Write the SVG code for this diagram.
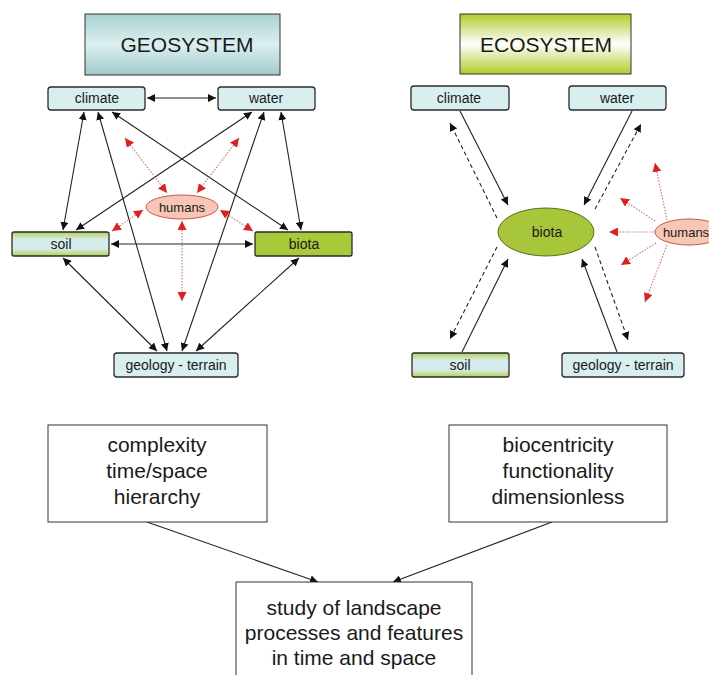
<svg xmlns="http://www.w3.org/2000/svg" width="709" height="675" viewBox="0 0 709 675">
<style>
text{font-family:"Liberation Sans",Arial,sans-serif;fill:#1a1a1a;text-anchor:middle}
.t14{font-size:14px}
.t13{font-size:13px}
.title{font-size:21px}
.big{font-size:21px}
.box{fill:#d9eeef;stroke:#2a2a2a;stroke-width:1.3}
.plain{fill:#fff;stroke:#333;stroke-width:1}
.blk{stroke:#222;stroke-width:1.1;fill:none}
.dash{stroke:#222;stroke-width:1.1;fill:none;stroke-dasharray:4,3}
.red{stroke:#d87070;stroke-width:1.1;fill:none;stroke-dasharray:1.5,1.5}
</style>
<defs>
<linearGradient id="gTeal" x1="0" y1="0" x2="0" y2="1">
<stop offset="0" stop-color="#a9d1d1"/><stop offset="0.5" stop-color="#dcefef"/><stop offset="1" stop-color="#a0caca"/>
</linearGradient>
<linearGradient id="gGreen" x1="0" y1="0" x2="0" y2="1">
<stop offset="0" stop-color="#b0cc2a"/><stop offset="0.5" stop-color="#ffffff"/><stop offset="1" stop-color="#b0cc2a"/>
</linearGradient>
<linearGradient id="gSoil" x1="0" y1="0" x2="0" y2="1">
<stop offset="0" stop-color="#b6d250"/><stop offset="0.3" stop-color="#d6ecec"/><stop offset="0.7" stop-color="#d6ecec"/><stop offset="1" stop-color="#b6d250"/>
</linearGradient>
<marker id="ab" viewBox="0 0 10 10" refX="10" refY="5" markerWidth="8" markerHeight="8" markerUnits="userSpaceOnUse" orient="auto-start-reverse">
<path d="M0,0 L10,5 L0,10 z" fill="#111"/>
</marker>
<marker id="ar" viewBox="0 0 10 10" refX="10" refY="5" markerWidth="9" markerHeight="9" markerUnits="userSpaceOnUse" orient="auto-start-reverse">
<path d="M0,0 L10,5 L0,10 z" fill="#e02020"/>
</marker>
</defs>

<g id="geosystem-title">
<rect x="85" y="14" width="195" height="61" fill="url(#gTeal)" stroke="#333" stroke-width="1"/>
<text class="title" x="187" y="52">GEOSYSTEM</text>
</g>
<g id="ecosystem-title">
<rect x="460" y="14" width="171" height="60" fill="url(#gGreen)" stroke="#333" stroke-width="1"/>
<text class="title" x="546" y="52">ECOSYSTEM</text>
</g>

<g id="connectors">
<line class="blk" x1="147" y1="98" x2="216" y2="98" marker-start="url(#ab)" marker-end="url(#ab)"/>
<line class="blk" x1="111" y1="244" x2="253" y2="244" marker-start="url(#ab)" marker-end="url(#ab)"/>
<line class="blk" x1="84" y1="112" x2="63" y2="230" marker-start="url(#ab)" marker-end="url(#ab)"/>
<line class="blk" x1="98" y1="112" x2="167" y2="351" marker-start="url(#ab)" marker-end="url(#ab)"/>
<line class="blk" x1="112" y1="112" x2="288" y2="230" marker-start="url(#ab)" marker-end="url(#ab)"/>
<line class="blk" x1="252" y1="112" x2="76" y2="230" marker-start="url(#ab)" marker-end="url(#ab)"/>
<line class="blk" x1="264" y1="112" x2="182" y2="351" marker-start="url(#ab)" marker-end="url(#ab)"/>
<line class="blk" x1="281" y1="112" x2="301" y2="230" marker-start="url(#ab)" marker-end="url(#ab)"/>
<line class="blk" x1="63" y1="258" x2="157" y2="351" marker-start="url(#ab)" marker-end="url(#ab)"/>
<line class="blk" x1="299" y1="258" x2="196" y2="351" marker-start="url(#ab)" marker-end="url(#ab)"/>

<line class="red" x1="125" y1="138" x2="167" y2="193" marker-start="url(#ar)" marker-end="url(#ar)"/>
<line class="red" x1="239" y1="138" x2="197" y2="193" marker-start="url(#ar)" marker-end="url(#ar)"/>
<line class="red" x1="112" y1="231" x2="143" y2="210" marker-start="url(#ar)" marker-end="url(#ar)"/>
<line class="red" x1="253" y1="231" x2="220" y2="210" marker-start="url(#ar)" marker-end="url(#ar)"/>
<line class="red" x1="182" y1="221" x2="182" y2="301" marker-start="url(#ar)" marker-end="url(#ar)"/>

<line class="blk" x1="460" y1="111" x2="508" y2="205" marker-end="url(#ab)"/>
<line class="dash" x1="497" y1="218" x2="450" y2="123" marker-end="url(#ab)"/>
<line class="blk" x1="632" y1="111" x2="584" y2="205" marker-end="url(#ab)"/>
<line class="dash" x1="595" y1="209" x2="641" y2="124" marker-end="url(#ab)"/>
<line class="blk" x1="462" y1="352" x2="508" y2="259" marker-end="url(#ab)"/>
<line class="dash" x1="497" y1="247" x2="450" y2="339" marker-end="url(#ab)"/>
<line class="blk" x1="617" y1="352" x2="582" y2="259" marker-end="url(#ab)"/>
<line class="dash" x1="595" y1="247" x2="628" y2="340" marker-end="url(#ab)"/>

<line class="red" x1="667" y1="220" x2="655" y2="163" marker-end="url(#ar)"/>
<line class="red" x1="655" y1="221" x2="620" y2="198" marker-end="url(#ar)"/>
<line class="red" x1="654" y1="232" x2="609" y2="232" marker-end="url(#ar)"/>
<line class="red" x1="656" y1="243" x2="621" y2="265" marker-end="url(#ar)"/>
<line class="red" x1="667" y1="245" x2="645" y2="302" marker-end="url(#ar)"/>

<line class="blk" x1="147" y1="522" x2="318" y2="582" marker-end="url(#ab)"/>
<line class="blk" x1="552" y1="522" x2="393" y2="582" marker-end="url(#ab)"/>
</g>

<g id="geo-climate"><rect class="box" x="48" y="87" width="97" height="23" rx="3"/><text class="t14" x="97" y="103">climate</text></g>
<g id="geo-water"><rect class="box" x="218" y="87" width="97" height="23" rx="3"/><text class="t14" x="266" y="103">water</text></g>
<g id="geo-soil"><rect x="12" y="232" width="97" height="24" rx="2" fill="url(#gSoil)" stroke="#2a2a2a" stroke-width="1.3"/><text class="t14" x="61" y="249">soil</text></g>
<g id="geo-biota"><rect x="255" y="232" width="97" height="24" rx="2" fill="#a9c93a" stroke="#2a2a2a" stroke-width="1.3"/><text class="t14" x="304" y="249">biota</text></g>
<g id="geo-humans"><ellipse cx="182" cy="207" rx="36" ry="12" fill="#f7c6b6" stroke="#c85a4a" stroke-width="1"/><text class="t13" x="182" y="212">humans</text></g>
<g id="geo-geology"><rect class="box" x="114" y="353" width="124" height="24" rx="3"/><text class="t14" x="176" y="370">geology - terrain</text></g>

<g id="eco-climate"><rect class="box" x="411" y="86" width="98" height="24" rx="3"/><text class="t14" x="459" y="103">climate</text></g>
<g id="eco-water"><rect class="box" x="569" y="86" width="97" height="24" rx="3"/><text class="t14" x="617" y="103">water</text></g>
<g id="eco-biota"><ellipse cx="546" cy="232" rx="48" ry="24" fill="#a8c63a" stroke="#5a6e1e" stroke-width="1"/><text class="t14" x="547" y="237">biota</text></g>
<g id="eco-humans"><ellipse cx="689" cy="232" rx="34" ry="13" fill="#f7c6b6" stroke="#c85a4a" stroke-width="1"/><text class="t13" x="686" y="237">humans</text></g>
<g id="eco-soil"><rect x="412" y="353" width="97" height="24" rx="2" fill="url(#gSoil)" stroke="#2a2a2a" stroke-width="1.3"/><text class="t14" x="460" y="370">soil</text></g>
<g id="eco-geology"><rect class="box" x="562" y="353" width="122" height="24" rx="3"/><text class="t14" x="623" y="370">geology - terrain</text></g>

<g id="box-geo-props"><rect class="plain" x="48" y="425" width="219" height="97"/>
<text class="big" x="157" y="452">complexity</text><text class="big" x="157" y="478">time/space</text><text class="big" x="157" y="504">hierarchy</text></g>
<g id="box-eco-props"><rect class="plain" x="449" y="425" width="218" height="97"/>
<text class="big" x="558" y="452">biocentricity</text><text class="big" x="558" y="478">functionality</text><text class="big" x="558" y="504">dimensionless</text></g>
<g id="box-study"><path d="M236,676 V582 H472 V676" class="plain"/>
<text class="big" x="354" y="615">study of landscape</text><text class="big" x="354" y="640">processes and features</text><text class="big" x="354" y="665">in time and space</text></g>
</svg>
